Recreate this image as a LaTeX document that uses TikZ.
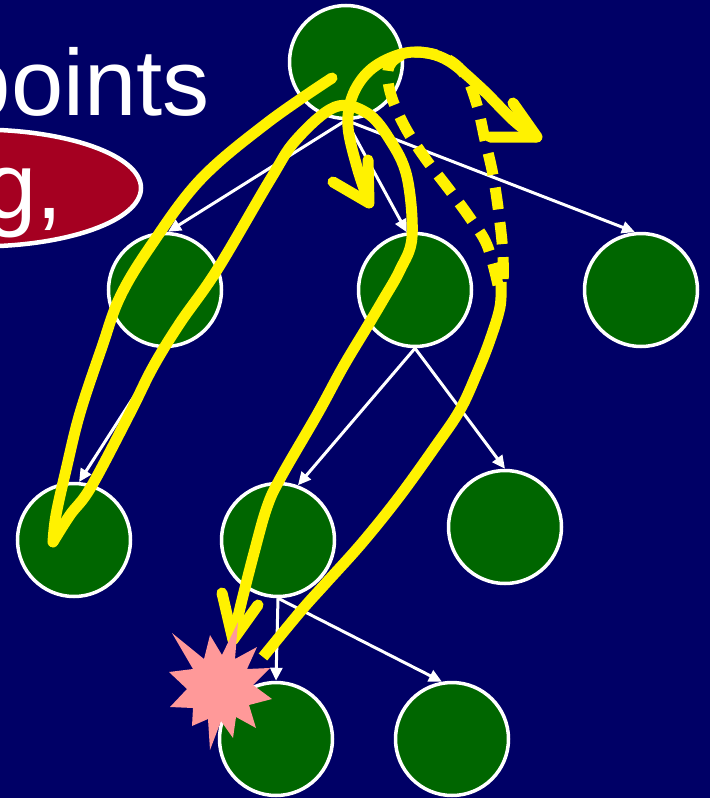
\documentclass[tikz,border=0pt]{standalone}
\usepackage{fontspec}
\setmainfont{Liberation Sans}
\usetikzlibrary{arrows.meta,shapes.geometric}

\definecolor{slideblue}{RGB}{0,0,102}
\definecolor{treegreen}{RGB}{0,102,0}
\definecolor{ovalred}{RGB}{165,0,33}
\definecolor{flashpink}{RGB}{255,153,153}

\begin{document}
\begin{tikzpicture}[
    x=1pt,
    y=-1pt,
    vertex/.style={circle, draw=white, line width=3.5pt, fill=treegreen, minimum size=113pt, inner sep=0pt},
    edge/.style={white, line width=3pt, -{Triangle[length=13pt,width=12pt]}},
    trail/.style={yellow, line width=11pt, line cap=round, line join=round},
    dashtrail/.style={yellow, line width=11pt, dash pattern=on 22pt off 13pt},
    slidetext/.style={white, inner sep=0pt, font=\fontsize{94}{100}\selectfont}
]

% =========================================================
% SFONDO
% =========================================================

\useasboundingbox (0,0) rectangle (710,798);
\clip (0,0) rectangle (710,798);
\fill[slideblue] (0,0) rectangle (710,798);

% =========================================================
% TESTO
% =========================================================

\node[slidetext, anchor=base east] (word) at (210,115) {points};

\node[ellipse, draw=white, line width=4.5pt, fill=ovalred, minimum width=326pt, minimum height=117pt, inner sep=0pt] (oval) at (-22,188) {};
\node[slidetext, anchor=base east] (comma) at (63,218) {g,};

% =========================================================
% ALBERO
% =========================================================

\node[vertex] (root) at (346,62) {};

\node[vertex] (l1a) at (165,290) {};
\node[vertex] (l1b) at (415,290) {};
\node[vertex] (l1c) at (641,290) {};

\node[vertex] (l2a) at (74,540) {};
\node[vertex] (l2b) at (278,540) {};
\node[vertex] (l2c) at (505,527) {};

\node[vertex] (l3a) at (276,739) {};
\node[vertex] (l3b) at (452,739) {};

% archi
\draw[edge] (root.south) -- (l1a.87);
\draw[edge] (root.south) -- (l1b.98);
\draw[edge] (root.south) -- (l1c.96);

\draw[edge] (l1a.south) -- (l2a.85);
\draw[edge] (l1b.south) -- (l2b.70);
\draw[edge] (l1b.south) -- (l2c.north);

\draw[edge] (l2b.south) -- (l3a.north);
\draw[edge] (l2b.south) -- (l3b.100);

% =========================================================
% PERCORSI GIALLI
% =========================================================

% discesa a sinistra e ritorno
\draw[trail] plot[smooth, tension=0.6] coordinates {
  (332,78) (267,123) (200,180) (150,247) (120,297) (102,347)
  (80,413) (66,470) (56,515) (53,542)};
\draw[trail] plot[smooth, tension=0.6] coordinates {
  (53,542) (70,515) (91,487) (130,413) (153,367) (180,323)
  (217,270) (270,180) (296,140) (335,107) (367,113) (390,140)
  (407,177) (412,237) (400,270) (383,300) (367,327) (343,367)
  (318,413) (281,477) (267,507) (254,553) (242,600) (233,638)};
\draw[trail] (222,593) -- (233,640) -- (258,605);

% piccolo anello sopra la radice
\draw[trail] plot[smooth, tension=0.6] coordinates {
  (368,200) (357,167) (348,127) (352,97) (367,73) (390,58)
  (417,52) (447,60) (480,87) (513,120) (535,137)};
\draw[trail] (333,182) -- (369,203) -- (368,160);
\draw[trail] (513,103) -- (537,137) -- (490,137);

% ritorno tratteggiato
\draw[dashtrail] plot[smooth, tension=0.6] coordinates {
  (498,285) (487,245) (470,218) (448,188) (425,158) (405,127)
  (391,95) (388,70) (398,57) (417,52) (445,58) (465,75)
  (477,105) (485,140) (493,175) (499,215) (503,255) (503,290)};
\draw[trail, line cap=butt] plot[smooth, tension=0.6] coordinates {
  (501,282) (500,307) (490,340) (477,373) (460,410) (435,447)
  (399,497) (362,543) (326,583) (300,612) (263,657)};

% =========================================================
% ESPLOSIONE
% =========================================================

\fill[flashpink]
  (172,633) -- (204,659) -- (210,635) -- (222,655) -- (238,622) -- (235,659)
  -- (257,647) -- (247,669) -- (270,668) -- (253,685) -- (272,699) -- (249,705)
  -- (256,728) -- (236,717) -- (233,738) -- (221,721) -- (210,750) -- (208,719)
  -- (192,726) -- (193,708) -- (170,707) -- (187,689) -- (169,672) -- (193,669)
  -- cycle;

\end{tikzpicture}
\end{document}
